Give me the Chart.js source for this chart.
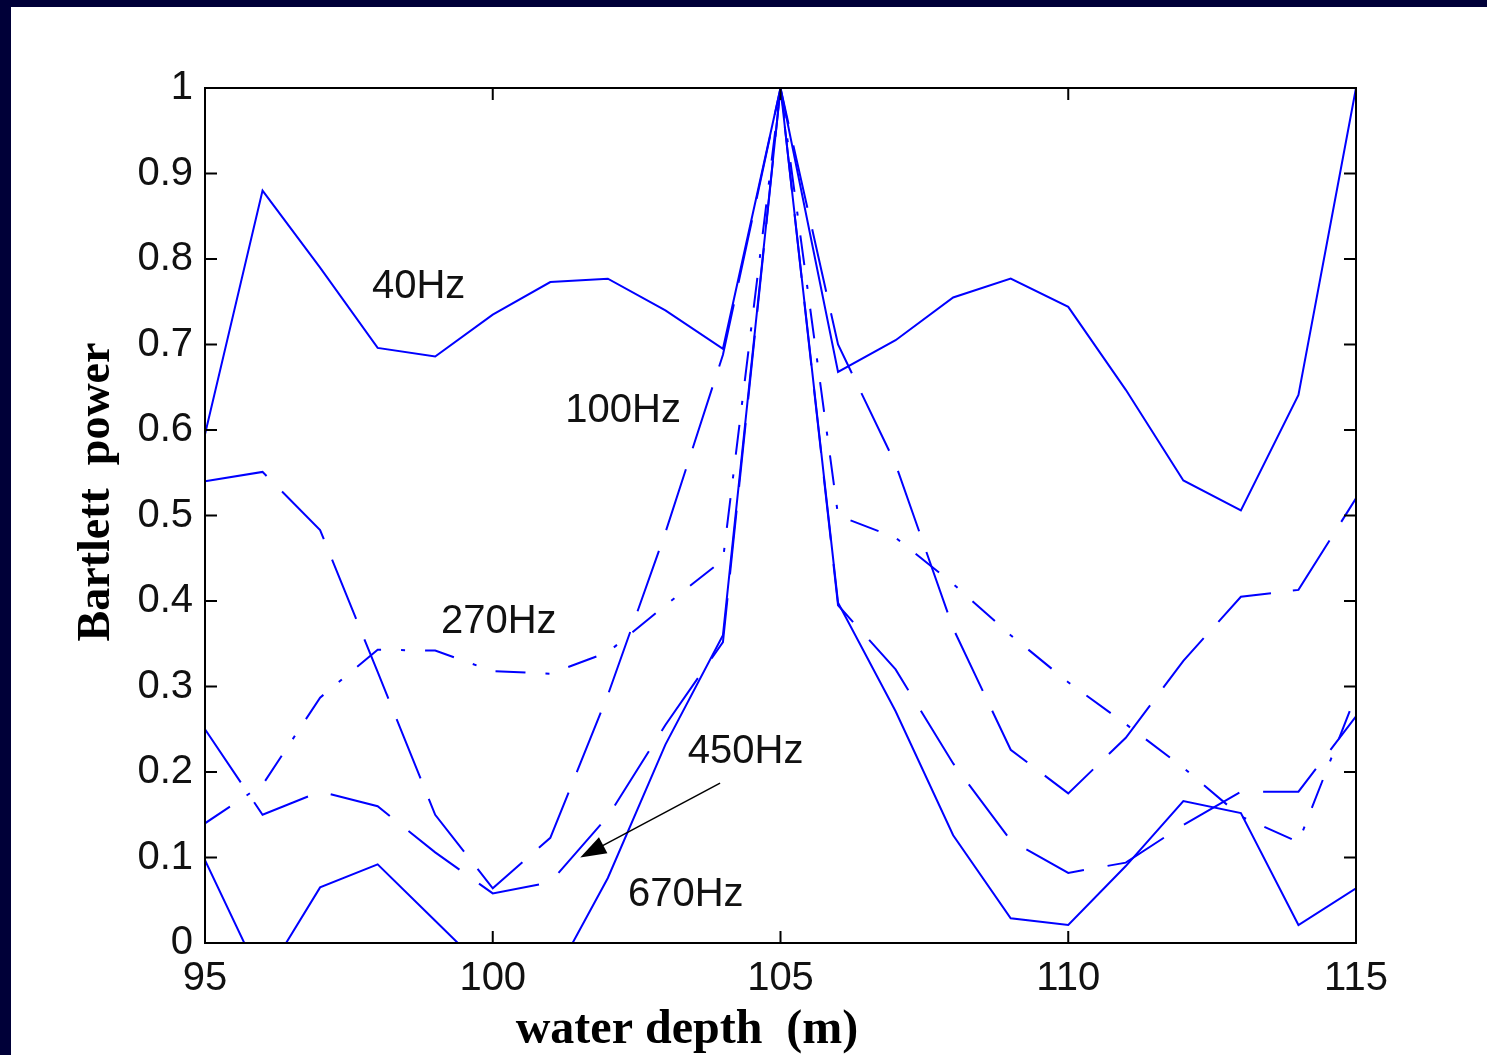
<!DOCTYPE html>
<html>
<head>
<meta charset="UTF-8">
<title>Bartlett power vs water depth</title>
<script src="https://cdn.jsdelivr.net/npm/chart.js@4.4.1/dist/chart.umd.min.js"></script>
<style>
    html, body { margin: 0; padding: 0; }
    body { background: #000038; width: 1487px; height: 1055px; overflow: hidden; position: relative; }
    .paper { position: absolute; left: 11px; top: 7px; right: 0; bottom: 0; background: #fff; }
    .wrap { position: absolute; left: 0; top: 0; width: 1487px; height: 1055px; }
</style>
</head>
<body>
<div class="paper"></div>
<div class="wrap"><canvas id="myChart"></canvas></div>
<script>
// water depth (m)
var depth = [95, 96, 97, 98, 99, 100, 101, 102, 103, 104, 105, 106, 107, 108, 109, 110, 111, 112, 113, 114, 115];

// Bartlett power per frequency
var p40  = [0.595, 0.88, 0.79, 0.696, 0.686, 0.735, 0.773, 0.777, 0.74, 0.695, 1.0, 0.668, 0.705, 0.755, 0.777, 0.744, 0.647, 0.541, 0.506, 0.641, 1.0];
var p100 = [0.54, 0.551, 0.483, 0.317, 0.15, 0.064, 0.123, 0.29, 0.48, 0.688, 1.0, 0.70, 0.56, 0.368, 0.226, 0.175, 0.24, 0.33, 0.405, 0.413, 0.52];
var p270 = [0.14, 0.185, 0.287, 0.343, 0.342, 0.318, 0.315, 0.34, 0.395, 0.448, 1.0, 0.50, 0.474, 0.42, 0.36, 0.305, 0.256, 0.205, 0.148, 0.118, 0.29];
var p450 = [0.25, 0.15, 0.177, 0.16, 0.106, 0.058, 0.071, 0.148, 0.255, 0.352, 1.0, 0.395, 0.32, 0.21, 0.12, 0.082, 0.094, 0.138, 0.177, 0.177, 0.265];
var p670 = [0.097, -0.045, 0.065, 0.092, 0.026, -0.04, -0.048, 0.076, 0.232, 0.36, 1.0, 0.398, 0.271, 0.126, 0.029, 0.021, 0.09, 0.166, 0.152, 0.021, 0.064];

var xTicks = [95, 100, 105, 110, 115];
var yTicks = [0, 0.1, 0.2, 0.3, 0.4, 0.5, 0.6, 0.7, 0.8, 0.9, 1];
var yTickLabels = ['0', '0.1', '0.2', '0.3', '0.4', '0.5', '0.6', '0.7', '0.8', '0.9', '1'];

// curve labels, anchored in data units (left edge, middle)
var freqLabels = ['40Hz', '100Hz', '270Hz', '450Hz', '670Hz'];
var labelX = [97.9, 101.26, 99.1, 103.39, 102.35];
var labelY = [0.767, 0.622, 0.375, 0.223, 0.056];
var arrowFrom = [103.95, 0.187];
var arrowTo = [101.52, 0.10];

function pts(arr) {
    return arr.map(function(v, i) { return {x: depth[i], y: v}; });
}

function line(data, dash) {
    return {
        data: pts(data),
        borderColor: '#0000ff',
        borderWidth: 2,
        borderDash: dash,
        pointRadius: 0,
        tension: 0,
        fill: false
    };
}

var framePlugin = {
    id: 'frame',
    afterDraw: function(chart) {
        var ctx = chart.ctx, a = chart.chartArea;
        var xs = chart.scales.x, ys = chart.scales.y;
        var tl = 12;
        ctx.save();
        ctx.strokeStyle = '#000';
        ctx.lineWidth = 2;
        ctx.strokeRect(a.left, a.top, a.right - a.left, a.bottom - a.top);
        ctx.beginPath();
        xTicks.forEach(function(v) {
            var px = xs.getPixelForValue(v);
            ctx.moveTo(px, a.bottom); ctx.lineTo(px, a.bottom - tl);
            ctx.moveTo(px, a.top); ctx.lineTo(px, a.top + tl);
        });
        yTicks.forEach(function(v) {
            var py = ys.getPixelForValue(v);
            ctx.moveTo(a.left, py); ctx.lineTo(a.left + tl, py);
            ctx.moveTo(a.right, py); ctx.lineTo(a.right - tl, py);
        });
        ctx.stroke();

        // curve labels
        ctx.fillStyle = '#111';
        ctx.font = '40px "Liberation Sans", Arial, sans-serif';
        ctx.textAlign = 'left';
        ctx.textBaseline = 'middle';
        freqLabels.forEach(function(t, i) {
            ctx.fillText(t, xs.getPixelForValue(labelX[i]), ys.getPixelForValue(labelY[i]));
        });

        // arrow to the 450Hz curve
        var x0 = xs.getPixelForValue(arrowFrom[0]), y0 = ys.getPixelForValue(arrowFrom[1]);
        var x1 = xs.getPixelForValue(arrowTo[0]), y1 = ys.getPixelForValue(arrowTo[1]);
        var ang = Math.atan2(y1 - y0, x1 - x0);
        ctx.lineWidth = 1.5;
        ctx.beginPath();
        ctx.moveTo(x0, y0);
        ctx.lineTo(x1 - 18 * Math.cos(ang), y1 - 18 * Math.sin(ang));
        ctx.stroke();
        ctx.beginPath();
        ctx.moveTo(x1, y1);
        ctx.lineTo(x1 - 26 * Math.cos(ang) + 9 * Math.sin(ang), y1 - 26 * Math.sin(ang) - 9 * Math.cos(ang));
        ctx.lineTo(x1 - 26 * Math.cos(ang) - 9 * Math.sin(ang), y1 - 26 * Math.sin(ang) + 9 * Math.cos(ang));
        ctx.closePath();
        ctx.fillStyle = '#000';
        ctx.fill();

        // axis titles
        ctx.fillStyle = '#000';
        ctx.textAlign = 'center';
        ctx.textBaseline = 'middle';
        ctx.font = 'bold 48px "Liberation Serif", "Times New Roman", serif';
        ctx.fillText('water depth  (m)', a.left + 482, a.bottom + 88);
        ctx.font = 'bold 46px "Liberation Serif", "Times New Roman", serif';
        ctx.translate(a.left - 108, a.top + 404);
        ctx.rotate(-Math.PI / 2);
        ctx.fillText('Bartlett  power', 0, 0);
        ctx.restore();
    }
};

var tickFont = { family: '"Liberation Sans", Arial, sans-serif', size: 40 };

new Chart('myChart', {
    type: 'line',
    data: {
        datasets: [
            line(p40, []),
            line(p100, [64, 22]),
            line(p270, [30, 20, 4, 20]),
            line(p450, [64, 24]),
            line(p670, [])
        ]
    },
    options: {
        responsive: true,
        maintainAspectRatio: false,
        animation: false,
        events: [],
        layout: { padding: { left: 0, top: 88, right: 131, bottom: 0 } },
        plugins: { legend: { display: false }, tooltip: { enabled: false } },
        scales: {
            x: {
                type: 'linear',
                min: 95,
                max: 115,
                grid: { display: false, drawTicks: false },
                border: { display: false },
                afterBuildTicks: function(s) { s.ticks = xTicks.map(function(v) { return {value: v}; }); },
                afterFit: function(s) { s.height = 112; },
                ticks: { color: '#111', font: tickFont, padding: 12, maxRotation: 0, autoSkip: false }
            },
            y: {
                type: 'linear',
                min: 0,
                max: 1,
                grid: { display: false, drawTicks: false },
                border: { display: false },
                afterBuildTicks: function(s) { s.ticks = yTicks.map(function(v) { return {value: v}; }); },
                afterFit: function(s) { s.width = 205; },
                ticks: {
                    color: '#111', font: tickFont, padding: 12, autoSkip: false,
                    callback: function(v, i) { return yTickLabels[i]; }
                }
            }
        }
    },
    plugins: [framePlugin]
});
</script>
</body>
</html>
